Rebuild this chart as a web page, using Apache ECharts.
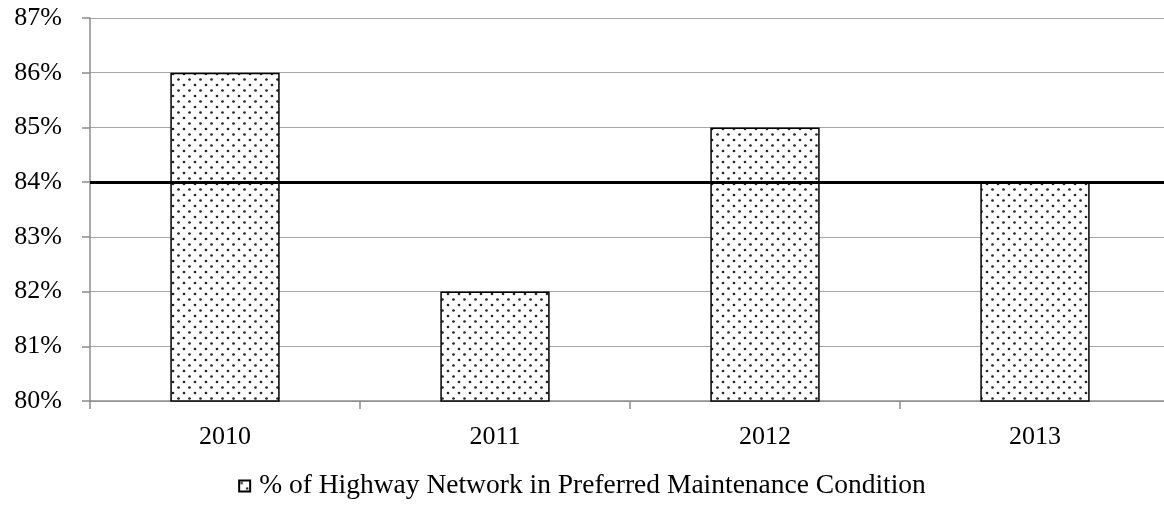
<!DOCTYPE html>
<html>
<head>
<meta charset="utf-8">
<style>
  html, body { margin: 0; padding: 0; background: #fff; }
  #chart { width: 1164px; height: 512px; }
</style>
<script src="https://cdn.jsdelivr.net/npm/echarts@6/dist/echarts.min.js"></script>
</head>
<body>
<div id="chart"></div>
<script>
// Years on the category axis
const years = ['2010', '2011', '2012', '2013'];
// Share of the network in preferred condition (%)
const preferredShare = [86, 82, 85, 84];
// Target level drawn as a horizontal line (%)
const targetLevel = 84;
const seriesName = '% of Highway Network in Preferred Maintenance Condition';

// Dotted fill tile for the bars
function makeDotPattern() {
  const c = document.createElement('canvas');
  c.width = 11; c.height = 11;
  const ctx = c.getContext('2d');
  ctx.fillStyle = '#ffffff';
  ctx.fillRect(0, 0, 11, 11);
  ctx.fillStyle = '#262626';
  ctx.beginPath(); ctx.arc(2.5, 2.5, 1.35, 0, Math.PI * 2); ctx.fill();
  ctx.beginPath(); ctx.arc(8, 8, 1.35, 0, Math.PI * 2); ctx.fill();
  return c;
}

const font = '"Liberation Serif", "DejaVu Serif", serif';
const chart = echarts.init(document.getElementById('chart'), null, { renderer: 'canvas' });

chart.setOption({
  animation: false,
  backgroundColor: '#ffffff',
  textStyle: { fontFamily: font },
  grid: { left: 90, width: 1080, top: 18, height: 383, containLabel: false, outerBoundsMode: 'none' },
  legend: {
    top: 467,
    left: 'center',
    itemWidth: 11,
    itemHeight: 11,
    textStyle: { fontFamily: font, fontSize: 27.5, color: '#000', padding: [0, 0, 0, 4] },
    data: [{ name: seriesName, icon: 'rect' }]
  },
  xAxis: {
    type: 'category',
    data: years,
    boundaryGap: true,
    axisLine: { lineStyle: { color: '#8c8c8c', width: 1.5 } },
    axisTick: { show: true, length: 8, lineStyle: { color: '#8c8c8c', width: 1.5 } },
    axisLabel: { fontFamily: font, fontSize: 26, color: '#000', margin: 23 }
  },
  yAxis: {
    type: 'value',
    min: 80,
    max: 87,
    interval: 1,
    axisLine: { show: true, lineStyle: { color: '#8c8c8c', width: 1.5 } },
    axisTick: { show: true, length: 8, lineStyle: { color: '#8c8c8c', width: 1.5 } },
    splitLine: { show: true, lineStyle: { color: '#a6a6a6', width: 1.2 } },
    axisLabel: { fontFamily: font, fontSize: 26, color: '#000', margin: 28, formatter: '{value}%' }
  },
  series: [{
    name: seriesName,
    type: 'bar',
    data: preferredShare,
    barWidth: '40.5%',
    itemStyle: {
      color: { image: makeDotPattern(), repeat: 'repeat' },
      borderColor: '#000',
      borderWidth: 1.5
    },
    markLine: {
      silent: true,
      symbol: ['none', 'none'],
      label: { show: false },
      lineStyle: { color: '#000', width: 3, type: 'solid' },
      data: [{ yAxis: targetLevel }]
    }
  }]
});
</script>
</body>
</html>
